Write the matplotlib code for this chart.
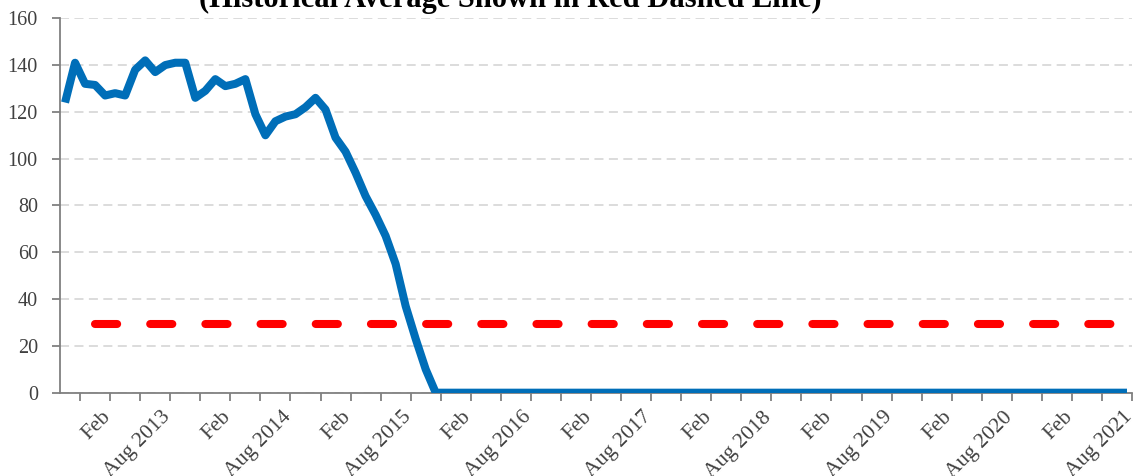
import matplotlib
matplotlib.use('Agg')
import matplotlib.pyplot as plt
import matplotlib.transforms as mtransforms
import numpy as np

plt.rcParams['font.family'] = ['Liberation Serif', 'DejaVu Serif']

# Monthly categories, Sep 2012 .. Jul 2021 (107 months)
months = [f"{m} {y}" for y in range(2012, 2022)
          for m in ['Jan', 'Feb', 'Mar', 'Apr', 'May', 'Jun', 'Jul', 'Aug', 'Sep', 'Oct', 'Nov', 'Dec']][8:115]

# Blue series
values = [124, 141, 132, 131.5, 127, 128, 127, 138, 142, 137,
          140, 141, 141, 126, 129, 134, 131, 132, 134, 119,
          110, 116, 118, 119, 122, 126, 121, 109, 103, 94,
          84, 76, 67, 55, 37, 23, 10, 0, 0, 0,
          0, 0, 0, 0, 0, 0, 0, 0, 0, 0,
          0, 0, 0, 0, 0, 0, 0, 0, 0, 0,
          0, 0, 0, 0, 0, 0, 0, 0, 0, 0,
          0, 0, 0, 0, 0, 0, 0, 0, 0, 0,
          0, 0, 0, 0, 0, 0, 0, 0, 0, 0,
          0, 0, 0, 0, 0, 0, 0, 0, 0, 0,
          0, 0, 0, 0, 0, 0, 0]

# Historical average (red dashed line), starts at the 4th month
hist_avg = 29.5
avg_start = 3

# Tick marks every 3 months, labels every 6 months
tick_pos = list(range(2, 108, 3))
tick_labels = ['', 'Feb', '', 'Aug 2013', '', 'Feb', '', 'Aug 2014', '', 'Feb', '', 'Aug 2015',
               '', 'Feb', '', 'Aug 2016', '', 'Feb', '', 'Aug 2017', '', 'Feb', '', 'Aug 2018',
               '', 'Feb', '', 'Aug 2019', '', 'Feb', '', 'Aug 2020', '', 'Feb', '', 'Aug 2021']

x = np.arange(len(months)) + 0.5
avg_series = np.array([np.nan] * avg_start + [hist_avg] * (len(months) - avg_start))

fig = plt.figure(figsize=(11.37, 4.76), dpi=100)
ax = fig.add_axes([0.0528, 0.175, 0.9428, 0.7866])

# gridlines
ax.set_axisbelow(True)
ax.yaxis.grid(True, color='#D9D9D9', linestyle=(0, (5, 3)), linewidth=1.3)

ax.plot(x, avg_series, color='#FF0000', linewidth=5.8, dashes=(2.75, 4.1),
        dash_capstyle='round', zorder=3)
ax.plot(x, values, color='#006EB8', linewidth=5.8, solid_joinstyle='round',
        solid_capstyle='butt', zorder=4)

ax.set_xlim(0, len(months))
ax.set_ylim(0, 160)
ax.set_yticks(range(0, 161, 20))
ax.set_xticks(tick_pos)
ax.set_xticklabels([])

# rotated labels, set a bit left of their tick like the original
lbl_trans = mtransforms.offset_copy(ax.get_xaxis_transform(), fig=fig,
                                    x=-9, y=-15, units='dots')
for pos, lbl in zip(tick_pos, tick_labels):
    if lbl:
        ax.text(pos, 0, lbl, transform=lbl_trans, rotation=45, ha='right', va='top',
                rotation_mode='anchor', fontsize=15.5, color='#404040')

for side in ['top', 'right']:
    ax.spines[side].set_visible(False)
for side in ['left', 'bottom']:
    ax.spines[side].set_color('#808080')
    ax.spines[side].set_linewidth(1.3)

ax.tick_params(axis='y', length=6, width=1.3, color='#808080', labelsize=14.5,
               labelcolor='#404040', pad=10)
ax.tick_params(axis='x', length=6, width=1.3, color='#808080')

fig.text(0.449, 1 - 7 / 476, '(Historical Average Shown in Red Dashed Line)',
         ha='center', va='baseline', fontsize=22, fontweight='bold', color='black')

fig.savefig('out.png', dpi=100)
